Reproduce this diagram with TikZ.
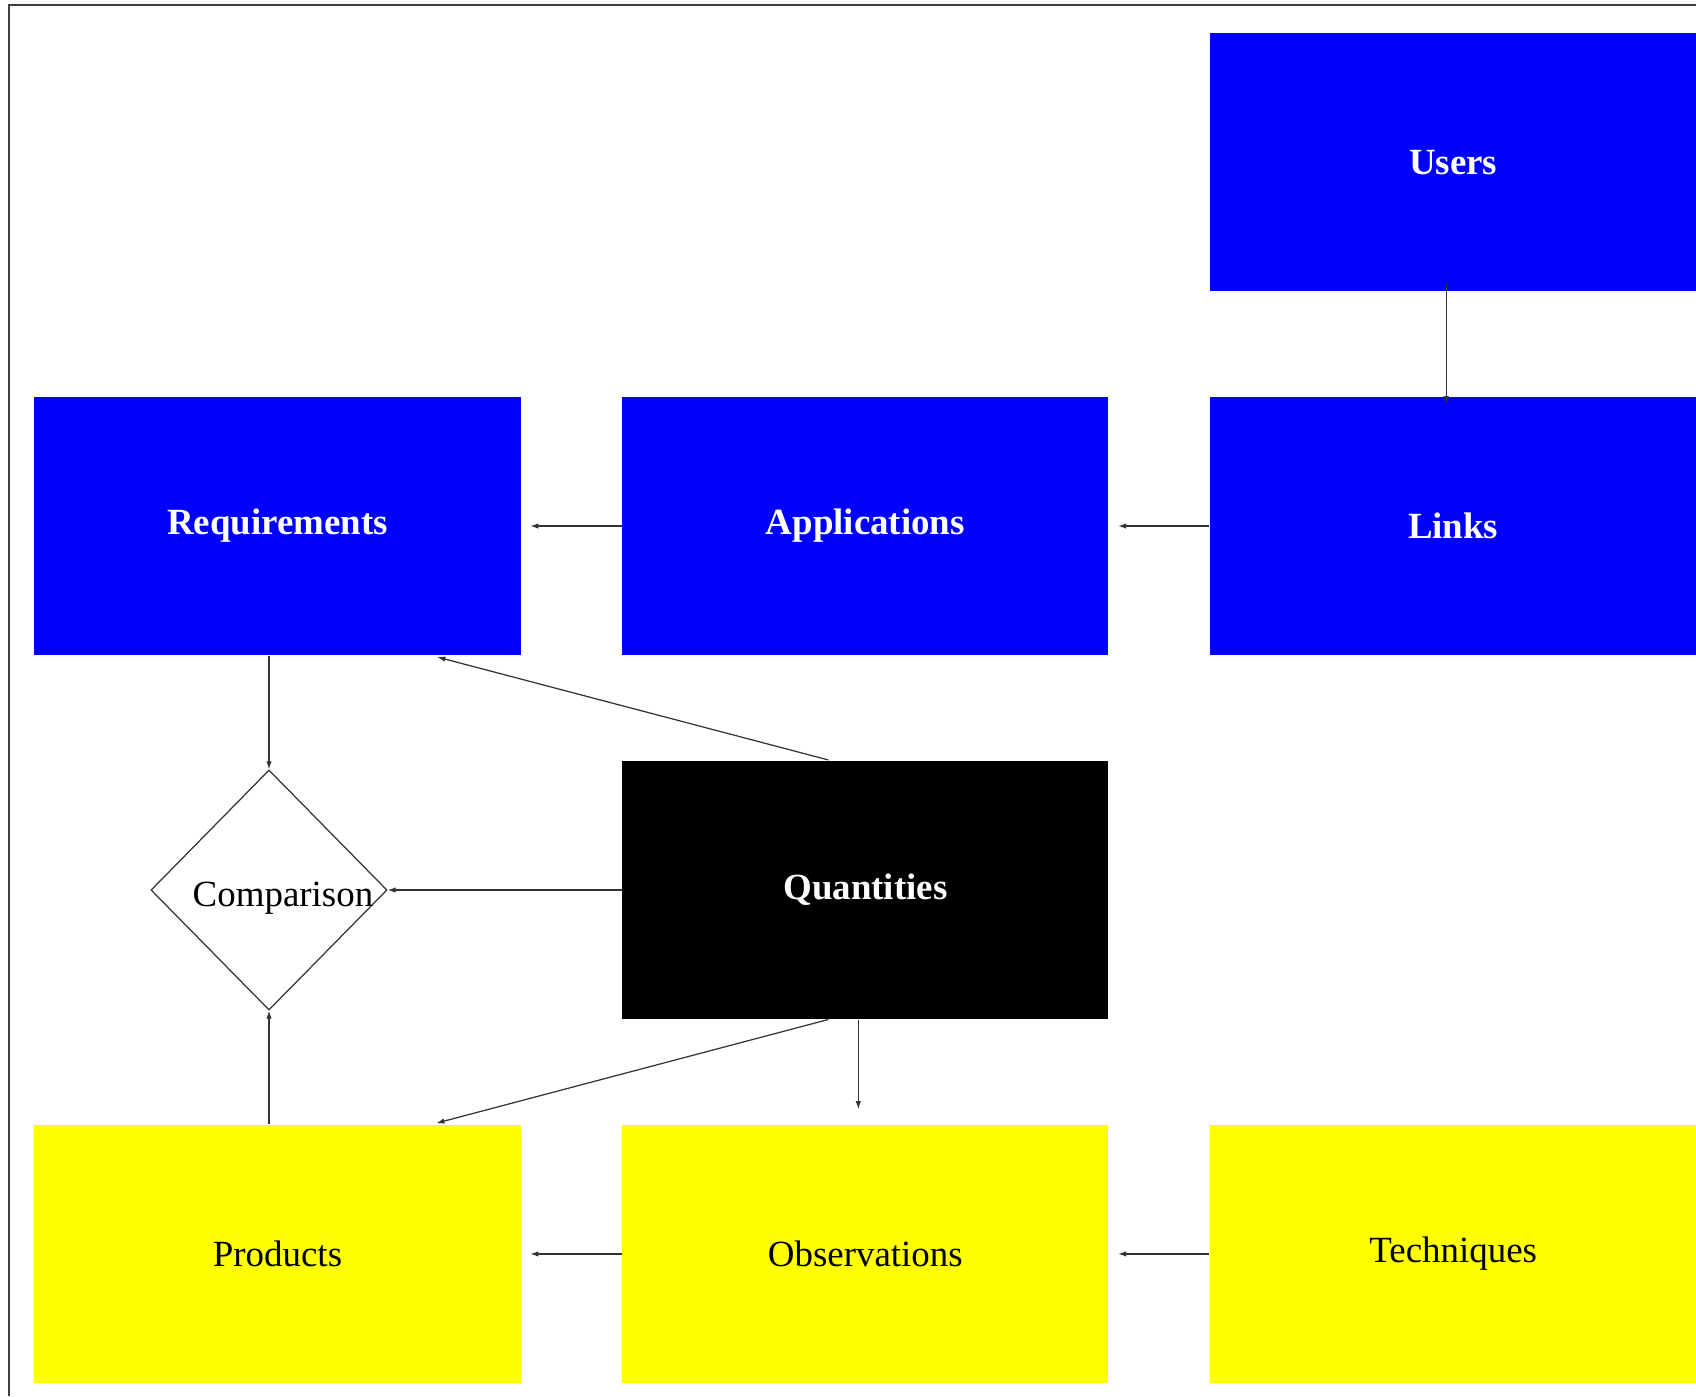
\documentclass[tikz,border=0pt]{standalone}
\usepackage{fontspec}
\setmainfont{Liberation Serif}
\usetikzlibrary{arrows.meta,shapes.geometric}

\begin{document}
\begin{tikzpicture}[x=0.01cm,y=-0.01cm,node distance=5.875cm,
    >={Latex[length=0.08cm,width=0.055cm]},
    box/.style={rectangle,inner sep=0pt,minimum width=4.86cm,minimum height=2.58cm,
                font=\fontsize{10.5}{12}\selectfont},
    bluebox/.style={box,fill={rgb,255:red,0;green,0;blue,255},text=white,font=\fontsize{10.5}{12}\selectfont\bfseries},
    blackbox/.style={box,fill=black,text=white,font=\fontsize{10.5}{12}\selectfont\bfseries},
    yellowbox/.style={box,fill={rgb,255:red,255;green,255;blue,0},text=black},
    decision/.style={diamond,draw=black!80,line width=0.35pt,inner sep=0pt,aspect=1,
                     minimum width=2.36cm,minimum height=2.40cm},
    link/.style={->,line width=0.35pt,draw=black!80},
    frame/.style={line width=0.6pt,draw=black!75}]

        \useasboundingbox (0,0) rectangle (1696,1396);
        \draw[frame] (9,1396) -- (9,5) -- (1696,5);

        \node[bluebox]   (req)   at (277.5,526)                        {Requirements};
        \node[bluebox]   (app)   [right of=req]                        {Applications};
        \node[bluebox]   (links) [right of=app]                        {Links};
        \node[bluebox]   (users) [above of=links,node distance=3.635cm] {Users};
        \node[blackbox]  (qty)   [below of=app,node distance=3.635cm]   {Quantities};
        \node[yellowbox] (obs)   [below of=qty,node distance=3.64cm]    {Observations};
        \node[yellowbox] (prod)  [left of=obs]                         {Products};
        \node[yellowbox] (tech)  [right of=obs]                        {Techniques};
        \node[decision]  (cmp)   at (269,890)                          {};
        \node[font=\fontsize{10.5}{12}\selectfont] (cmptext) at ([shift={(14,8)}]cmp.center) {Comparison};

        \path[every edge/.append style={link}]
                  ([shift={(-7,-8)}]users.south) edge ([shift={(-7,8)}]links.north)
                  (links.west)  edge [shorten >=0.09cm] (app.east)
                  (app.west)    edge [shorten >=0.09cm] (req.east)
                  (cmp.north |- req.south) edge (cmp.north)
                  ([shift={(-37,0)}]qty.north) edge [shorten >=0.05cm] ([shift={(155,0)}]req.south)
                  (qty.west |- cmp.east) edge (cmp.east)
                  ([shift={(-37,0)}]qty.south) edge [shorten >=0.04cm] ([shift={(155,0)}]prod.north)
                  ([shift={(-7,0)}]qty.south) edge [shorten >=0.15cm] ([shift={(-7,0)}]obs.north)
                  (cmp.south |- prod.north) edge (cmp.south)
                  (obs.west)    edge [shorten >=0.09cm] (prod.east)
                  (tech.west)   edge [shorten >=0.09cm] (obs.east);
\end{tikzpicture}
\end{document}
